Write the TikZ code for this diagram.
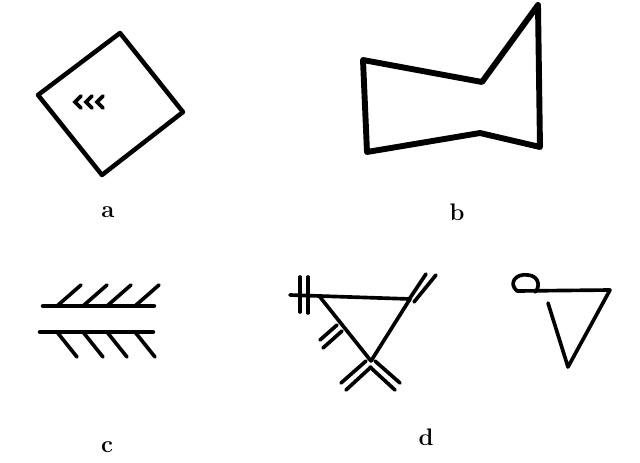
\documentclass[tikz,border=0pt]{standalone}
\usepackage{tikz}
\usetikzlibrary{positioning}

\begin{document}
\begin{tikzpicture}[x=0.025cm, y=-0.025cm,
    sign/.style={line width=3.2pt, line join=round, line cap=round},
    thin sign/.style={line width=2.6pt, line cap=round},
    lbl/.style={font=\fontsize{17}{20}\selectfont\bfseries}]
    \useasboundingbox (0,0) rectangle (640,462);

    % a: tilted square with marks
    \draw[sign] (120,33) -- (183,112) -- (102,175) -- (38,95) -- cycle;
    \foreach \x in {81,92,103}
        \draw[thin sign] (\x,96) -- (\x-6,102) -- (\x,108);

    % b: irregular outline
    \draw[line width=4.2pt, line join=round] (363,60) -- (482,82) -- (538,5)
        -- (540,147) -- (480,133) -- (367,152) -- cycle;

    % c: two lines with hatches
    \draw[sign] (43,306) -- (154,306);
    \draw[sign] (40,332) -- (153,332);
    \foreach \x in {57,83,107,135} {
        \draw[thin sign] (\x,306) -- (\x+24,285);
        \draw[thin sign] (\x,332) -- (\x+20,357);
    }

    % d: triangle with double ticks
    \draw[thin sign] (290,295) -- (410,299);
    \draw[thin sign] (300,277) -- (300,312);
    \draw[thin sign] (308,277) -- (308,313);
    \draw[thin sign] (320,297) -- (371,361);
    \draw[thin sign] (410,299) -- (371,361);
    \draw[thin sign] (408,301) -- (426,274);
    \draw[thin sign] (414,302) -- (436,275);
    \draw[thin sign] (320,340) -- (337,325);
    \draw[thin sign] (323,348) -- (342,331);
    \draw[thin sign] (366,361) -- (341,383);
    \draw[thin sign] (371,367) -- (346,390);
    \draw[thin sign] (375,361) -- (400,383);
    \draw[thin sign] (370,367) -- (395,390);

    % d: loop and triangle
    \draw[thin sign] (517,291) .. controls (508,283) and (516,273) .. (528,275)
        .. controls (540,276) and (540,288) .. (535,292);
    \draw[thin sign, line join=round] (517,291) -- (610,290) -- (568,367) -- (548,303);

    % Labels
    \node[lbl] (la) at (108,212) {a};
    \node[lbl] (lb) at (457,212) {b};
    \node[lbl] (lc) at (107,447) {c};
    \node[lbl] (ld) at (426,437) {d};
\end{tikzpicture}
\end{document}
